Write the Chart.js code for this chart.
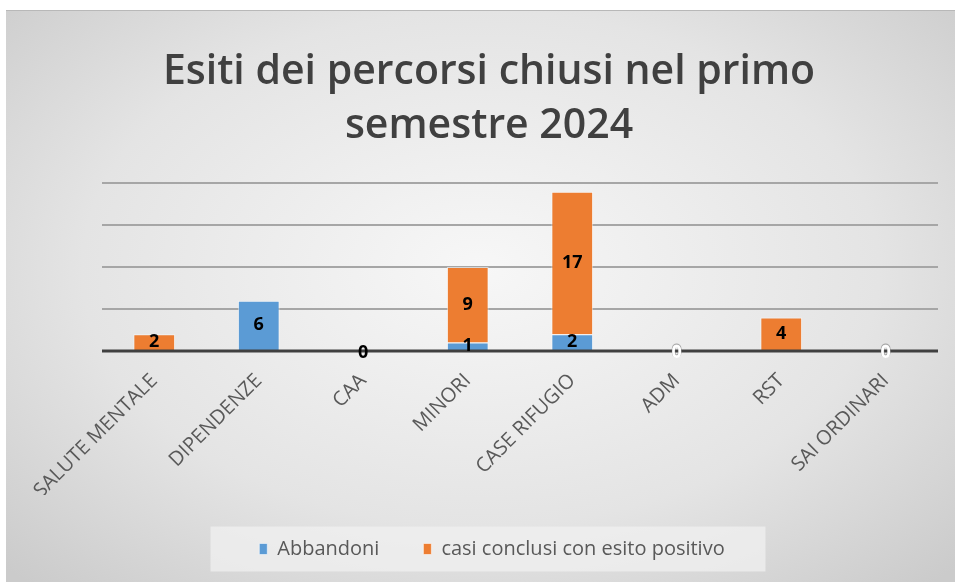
<!DOCTYPE html>
<html>
<head>
<meta charset="utf-8">
<script src="https://cdn.jsdelivr.net/npm/chart.js@4.4.1/dist/chart.umd.min.js"></script>
<style>
  html, body { margin: 0; padding: 0; background: #ffffff; }
  #frame {
    position: absolute; left: 6px; top: 10px; width: 949px; height: 572px;
    background: radial-gradient(ellipse 70% 75% at 50% 45%, #f7f7f7 0%, #e4e4e4 60%, #cbcbcb 100%);
    border-top: 1px solid #b8b8b8;
  }
  #c { display: block; }
</style>
</head>
<body>
<div id="frame"><canvas id="c" width="949" height="572"></canvas></div>
<script>
const categories = ["SALUTE MENTALE", "DIPENDENZE", "CAA", "MINORI", "CASE RIFUGIO", "ADM", "RST", "SAI ORDINARI"];
const abbandoni = [null, 6, 0, 1, 2, null, null, null];
const positivi = [2, null, null, 9, 17, 0, 4, 0];
const seriesNames = ["Abbandoni", "casi conclusi con esito positivo"];
const titleLines = ["Esiti dei percorsi chiusi nel primo", "semestre 2024"];
const yTicks = [0, 5, 10, 15, 20];

const LEGEND_FONT = 20, LEGEND_PAD = 44;

const labelPlugin = {
  id: 'valueLabels',
  afterDatasetsDraw(chart) {
    const ctx = chart.ctx;
    ctx.save();
    ctx.font = 'bold 18px "Open Sans", sans-serif';
    ctx.textAlign = 'center';
    ctx.textBaseline = 'middle';
    chart.data.datasets.forEach((ds, di) => {
      const meta = chart.getDatasetMeta(di);
      meta.data.forEach((bar, i) => {
        const v = ds.data[i];
        if (v === null || v === undefined) return;
        const y = (bar.y + bar.base) / 2;
        if (di === 1 && v === 0) {
          ctx.fillStyle = '#ffffff';
          ctx.strokeStyle = 'rgba(120,120,120,0.6)';
          ctx.lineWidth = 1;
          ctx.strokeText(String(v), bar.x, y + 1);
        } else {
          ctx.fillStyle = '#000000';
        }
        ctx.fillText(String(v), bar.x, v === 0 ? y + 2 : y);
      });
    });
    ctx.restore();
  }
};

const LEGEND_SHIFT = -28;
const TITLE_SHIFT = -31;
const boxShift = {
  id: 'boxShift',
  afterLayout(chart) {
    const l = chart.legend;
    if (l) { l.left += LEGEND_SHIFT; l.right += LEGEND_SHIFT; }
    const t = chart.titleBlock;
    if (t) { t.left += TITLE_SHIFT; t.right += TITLE_SHIFT; }
  }
};

const legendBg = {
  id: 'legendBg',
  beforeDraw(chart) {
    const l = chart.legend;
    if (!l) return;
    const ctx = chart.ctx;
    ctx.save();
    ctx.fillStyle = 'rgba(240,240,240,0.75)';
    const w = 555, h = 45;
    const cx = (l.left + l.right) / 2 - 4;
    const cy = l.top + LEGEND_PAD + LEGEND_FONT / 2;
    ctx.fillRect(cx - w / 2, cy - h / 2, w, h);
    ctx.restore();
  }
};

const axisLine = {
  id: 'axisLine',
  afterDatasetsDraw(chart) {
    const ctx = chart.ctx;
    const y = chart.scales.y.getPixelForValue(0);
    ctx.save();
    ctx.strokeStyle = '#404040';
    ctx.lineWidth = 3;
    ctx.beginPath();
    ctx.moveTo(chart.chartArea.left, y);
    ctx.lineTo(chart.chartArea.right, y);
    ctx.stroke();
    ctx.restore();
  }
};

new Chart(document.getElementById('c'), {
  type: 'bar',
  data: {
    labels: categories,
    datasets: [
      { label: seriesNames[0], data: abbandoni, backgroundColor: '#5B9BD5', borderColor: 'rgba(255,255,255,0.55)', borderWidth: 1, barPercentage: 0.8, categoryPercentage: 0.5 },
      { label: seriesNames[1], data: positivi, backgroundColor: '#ED7D31', borderColor: 'rgba(255,255,255,0.55)', borderWidth: 1, barPercentage: 0.8, categoryPercentage: 0.5 }
    ]
  },
  options: {
    responsive: false,
    animation: false,
    layout: { padding: { left: 96, right: 17, top: 0, bottom: 14 } },
    scales: {
      x: {
        stacked: true,
        grid: { display: false },
        border: { display: false },
        afterFit(scale) { scale.height = 144; },
        ticks: {
          color: '#595959',
          font: { family: '"Open Sans", sans-serif', size: 20 },
          minRotation: 45, maxRotation: 45, autoSkip: false, padding: 10
        }
      },
      y: {
        stacked: true,
        min: 0, max: 20,
        afterBuildTicks(scale) { scale.ticks = yTicks.map(v => ({ value: v })); },
        ticks: { display: false },
        border: { display: false },
        grid: { color: '#a6a6a6', lineWidth: 2, drawTicks: false }
      }
    },
    plugins: {
      title: {
        display: true,
        text: titleLines,
        color: '#404040',
        font: { family: '"Open Sans", sans-serif', size: 41, weight: '600', lineHeight: 1.32 },
        padding: { top: 34, bottom: 30 }
      },
      legend: {
        position: 'bottom',
        labels: {
          color: '#595959',
          font: { family: '"Open Sans", sans-serif', size: LEGEND_FONT },
          boxWidth: 8, boxHeight: 11, padding: LEGEND_PAD
        }
      },
      tooltip: { enabled: false }
    }
  },
  plugins: [boxShift, legendBg, axisLine, labelPlugin]
});
</script>
</body>
</html>
